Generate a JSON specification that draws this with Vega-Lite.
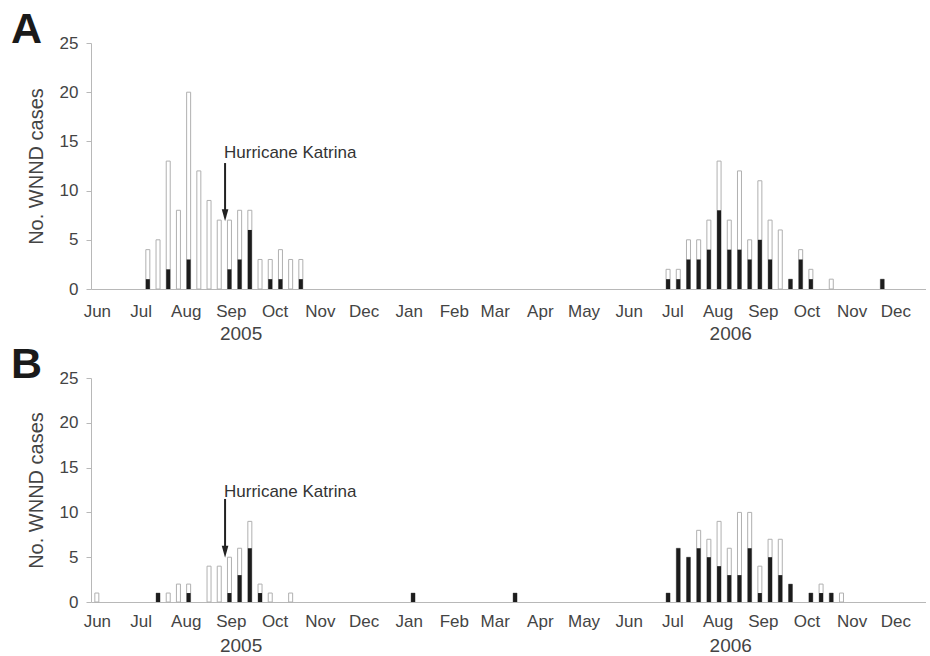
{
  "$schema": "https://vega.github.io/schema/vega-lite/v6.json",
  "background": "white",
  "padding": {"left": 11, "top": 9, "right": 0, "bottom": 0},
  "spacing": 0,
  "config": {
    "font": "Liberation Sans",
    "view": {"stroke": null},
    "axis": {"grid": false, "domainColor": "#b8b8b8", "tickColor": "#b8b8b8", "labelColor": "#444", "titleColor": "#444", "labelFontSize": 17, "titleFontWeight": "normal"}
  },
  "resolve": {"scale": {"x": "independent", "y": "independent"}},
  "datasets": {
    "a": [
      {"week": "2005-07-06", "total": 4, "black": 1},
      {"week": "2005-07-13", "total": 5, "black": 0},
      {"week": "2005-07-20", "total": 13, "black": 2},
      {"week": "2005-07-27", "total": 8, "black": 0},
      {"week": "2005-08-03", "total": 20, "black": 3},
      {"week": "2005-08-10", "total": 12, "black": 0},
      {"week": "2005-08-17", "total": 9, "black": 0},
      {"week": "2005-08-24", "total": 7, "black": 0},
      {"week": "2005-08-31", "total": 7, "black": 2},
      {"week": "2005-09-07", "total": 8, "black": 3},
      {"week": "2005-09-14", "total": 8, "black": 6},
      {"week": "2005-09-21", "total": 3, "black": 0},
      {"week": "2005-09-28", "total": 3, "black": 1},
      {"week": "2005-10-05", "total": 4, "black": 1},
      {"week": "2005-10-12", "total": 3, "black": 0},
      {"week": "2005-10-19", "total": 3, "black": 1},
      {"week": "2006-06-28", "total": 2, "black": 1},
      {"week": "2006-07-05", "total": 2, "black": 1},
      {"week": "2006-07-12", "total": 5, "black": 3},
      {"week": "2006-07-19", "total": 5, "black": 3},
      {"week": "2006-07-26", "total": 7, "black": 4},
      {"week": "2006-08-02", "total": 13, "black": 8},
      {"week": "2006-08-09", "total": 7, "black": 4},
      {"week": "2006-08-16", "total": 12, "black": 4},
      {"week": "2006-08-23", "total": 5, "black": 3},
      {"week": "2006-08-30", "total": 11, "black": 5},
      {"week": "2006-09-06", "total": 7, "black": 3},
      {"week": "2006-09-13", "total": 6, "black": 0},
      {"week": "2006-09-20", "total": 1, "black": 1},
      {"week": "2006-09-27", "total": 4, "black": 3},
      {"week": "2006-10-04", "total": 2, "black": 1},
      {"week": "2006-10-18", "total": 1, "black": 0},
      {"week": "2006-11-22", "total": 1, "black": 1}
    ],
    "b": [
      {"week": "2005-06-01", "total": 1, "black": 0},
      {"week": "2005-07-13", "total": 1, "black": 1},
      {"week": "2005-07-20", "total": 1, "black": 0},
      {"week": "2005-07-27", "total": 2, "black": 0},
      {"week": "2005-08-03", "total": 2, "black": 1},
      {"week": "2005-08-17", "total": 4, "black": 0},
      {"week": "2005-08-24", "total": 4, "black": 0},
      {"week": "2005-08-31", "total": 5, "black": 1},
      {"week": "2005-09-07", "total": 6, "black": 3},
      {"week": "2005-09-14", "total": 9, "black": 6},
      {"week": "2005-09-21", "total": 2, "black": 1},
      {"week": "2005-09-28", "total": 1, "black": 0},
      {"week": "2005-10-12", "total": 1, "black": 0},
      {"week": "2006-01-04", "total": 1, "black": 1},
      {"week": "2006-03-15", "total": 1, "black": 1},
      {"week": "2006-06-28", "total": 1, "black": 1},
      {"week": "2006-07-05", "total": 6, "black": 6},
      {"week": "2006-07-12", "total": 5, "black": 5},
      {"week": "2006-07-19", "total": 8, "black": 6},
      {"week": "2006-07-26", "total": 7, "black": 5},
      {"week": "2006-08-02", "total": 9, "black": 4},
      {"week": "2006-08-09", "total": 6, "black": 3},
      {"week": "2006-08-16", "total": 10, "black": 3},
      {"week": "2006-08-23", "total": 10, "black": 6},
      {"week": "2006-08-30", "total": 4, "black": 1},
      {"week": "2006-09-06", "total": 7, "black": 5},
      {"week": "2006-09-13", "total": 7, "black": 3},
      {"week": "2006-09-20", "total": 2, "black": 2},
      {"week": "2006-10-04", "total": 1, "black": 1},
      {"week": "2006-10-11", "total": 2, "black": 1},
      {"week": "2006-10-18", "total": 1, "black": 1},
      {"week": "2006-10-25", "total": 1, "black": 0}
    ],
    "event": [{"date": "2005-08-28", "label": "Hurricane Katrina"}],
    "years": [{"date": "2005-09-08", "year": "2005"}, {"date": "2006-08-10", "year": "2006"}]
  },
  "vconcat": [
    {
      "width": 835,
      "height": 246,
      "title": {"text": "A", "anchor": "start", "frame": "group", "dx": -80, "fontSize": 43, "font": "Liberation Sans", "fontWeight": "bold", "color": "#1a1a1a", "offset": -18},
      "layer": [
        {
          "data": {"name": "a"},
          "mark": {"type": "bar", "fill": "white", "stroke": "#b0b0b0", "strokeWidth": 1, "size": 4},
          "encoding": {
            "x": {"field": "week", "type": "temporal",
              "scale": {"domain": [{"year": 2005, "month": "may", "date": 28}, {"year": 2006, "month": "dec", "date": 22}], "padding": 0},
              "axis": {"format": "%b", "tickCount": {"interval": "month", "step": 1}, "ticks": false, "labelPadding": 14, "labelFlush": false, "labelOverlap": false, "title": null}},
            "y": {"field": "total", "type": "quantitative",
              "scale": {"domain": [0, 25], "nice": false},
              "axis": {"values": [0, 5, 10, 15, 20, 25], "tickSize": 5, "labelPadding": 8, "title": "No. WNND cases", "titleFontSize": 20, "titlePadding": 13}}
          }
        },
        {
          "data": {"name": "a"},
          "transform": [{"filter": "datum.black > 0"}],
          "mark": {"type": "bar", "fill": "#1c1c1c", "size": 4},
          "encoding": {
            "x": {"field": "week", "type": "temporal"},
            "y": {"field": "black", "type": "quantitative"}
          }
        },
        {
          "data": {"name": "event"},
          "mark": {"type": "rule", "color": "#222", "strokeWidth": 2},
          "encoding": {"x": {"field": "date", "type": "temporal"}, "y": {"datum": 12.8}, "y2": {"datum": 7.6}}
        },
        {
          "data": {"name": "event"},
          "mark": {"type": "point", "shape": "M-0.55,-1L0.55,-1L0,1Z", "filled": true, "color": "#222", "opacity": 1, "size": 144},
          "encoding": {"x": {"field": "date", "type": "temporal"}, "y": {"datum": 7.5}}
        },
        {
          "data": {"name": "event"},
          "mark": {"type": "text", "align": "left", "baseline": "middle", "fontSize": 17, "color": "#333", "dx": -1},
          "encoding": {"x": {"field": "date", "type": "temporal"}, "y": {"datum": 13.8}, "text": {"field": "label"}}
        },
        {
          "data": {"name": "years"},
          "mark": {"type": "text", "align": "center", "baseline": "middle", "fontSize": 19, "color": "#444"},
          "encoding": {"x": {"field": "date", "type": "temporal"}, "y": {"datum": -4.57}, "text": {"field": "year"}}
        }
      ]
    },
    {
      "width": 835,
      "height": 224,
      "title": {"text": "B", "anchor": "start", "frame": "group", "dx": -80, "fontSize": 43, "font": "Liberation Sans", "fontWeight": "bold", "color": "#1a1a1a", "offset": -18},
      "layer": [
        {
          "data": {"name": "b"},
          "mark": {"type": "bar", "fill": "white", "stroke": "#b0b0b0", "strokeWidth": 1, "size": 4},
          "encoding": {
            "x": {"field": "week", "type": "temporal",
              "scale": {"domain": [{"year": 2005, "month": "may", "date": 28}, {"year": 2006, "month": "dec", "date": 22}], "padding": 0},
              "axis": {"format": "%b", "tickCount": {"interval": "month", "step": 1}, "ticks": false, "labelPadding": 11, "labelFlush": false, "labelOverlap": false, "title": null}},
            "y": {"field": "total", "type": "quantitative",
              "scale": {"domain": [0, 25], "nice": false},
              "axis": {"values": [0, 5, 10, 15, 20, 25], "tickSize": 5, "labelPadding": 8, "title": "No. WNND cases", "titleFontSize": 20, "titlePadding": 13}}
          }
        },
        {
          "data": {"name": "b"},
          "transform": [{"filter": "datum.black > 0"}],
          "mark": {"type": "bar", "fill": "#1c1c1c", "size": 4},
          "encoding": {
            "x": {"field": "week", "type": "temporal"},
            "y": {"field": "black", "type": "quantitative"}
          }
        },
        {
          "data": {"name": "event"},
          "mark": {"type": "rule", "color": "#222", "strokeWidth": 2},
          "encoding": {"x": {"field": "date", "type": "temporal"}, "y": {"datum": 11.5}, "y2": {"datum": 5.7}}
        },
        {
          "data": {"name": "event"},
          "mark": {"type": "point", "shape": "M-0.55,-1L0.55,-1L0,1Z", "filled": true, "color": "#222", "opacity": 1, "size": 144},
          "encoding": {"x": {"field": "date", "type": "temporal"}, "y": {"datum": 5.6}}
        },
        {
          "data": {"name": "event"},
          "mark": {"type": "text", "align": "left", "baseline": "middle", "fontSize": 17, "color": "#333", "dx": -1},
          "encoding": {"x": {"field": "date", "type": "temporal"}, "y": {"datum": 12.3}, "text": {"field": "label"}}
        },
        {
          "data": {"name": "years"},
          "mark": {"type": "text", "align": "center", "baseline": "middle", "fontSize": 19, "color": "#444"},
          "encoding": {"x": {"field": "date", "type": "temporal"}, "y": {"datum": -4.93}, "text": {"field": "year"}}
        }
      ]
    }
  ]
}
